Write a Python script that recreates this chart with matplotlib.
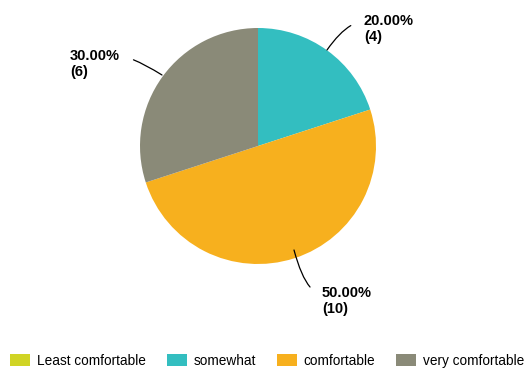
import matplotlib.pyplot as plt
from matplotlib.patches import Patch

plt.rcParams['font.family'] = ['Liberation Sans', 'DejaVu Sans']

# Survey answers
categories = ["Least comfortable", "somewhat", "comfortable", "very comfortable"]
counts = [0, 4, 10, 6]
colors = ["#d0d425", "#33bec0", "#f7b01e", "#8a8a78"]

total = sum(counts)

fig = plt.figure(figsize=(5.28, 3.69), dpi=100)
ax = fig.add_axes([0, 0, 1, 1])

# pie centred in pixel coordinates
cx, cy, r = 258, 223, 118
wedges, _ = ax.pie(counts, colors=colors, startangle=90, counterclock=False,
                   center=(cx, cy), radius=r, frame=True)
ax.set_xlim(0, 528)
ax.set_ylim(0, 369)
ax.set_aspect('equal')
ax.axis('off')

# label placement: (point on rim, text position, curve)
label_pos = {
    1: ((327, 319), (364, 340), "angle3,angleA=0,angleB=55"),
    2: ((294, 119), (322, 68), "angle3,angleA=0,angleB=105"),
    3: ((162, 294), (70, 305), "angle3,angleA=0,angleB=-32"),
}
for i, (xy, xytext, style) in label_pos.items():
    pct = counts[i] / total * 100
    right = xytext[0] > cx
    ax.annotate(f"{pct:.2f}%\n({counts[i]})", xy=xy, xytext=xytext,
                fontsize=10.5, fontweight='bold', ha='left', va='center',
                linespacing=1.15,
                arrowprops=dict(arrowstyle='-', color='black', lw=0.9,
                                connectionstyle=style, shrinkA=8, shrinkB=0,
                                relpos=(0, 0.75) if right else (1, 0.75)))

handles = [Patch(facecolor=c, edgecolor='none') for c in colors]
fig.legend(handles, categories, loc='lower center', ncol=4, frameon=False,
           fontsize=9.8, bbox_to_anchor=(0.506, -0.03), handlelength=1.5,
           handleheight=1.0, handletextpad=0.5, columnspacing=1.5)

fig.savefig("out.png", dpi=100)
